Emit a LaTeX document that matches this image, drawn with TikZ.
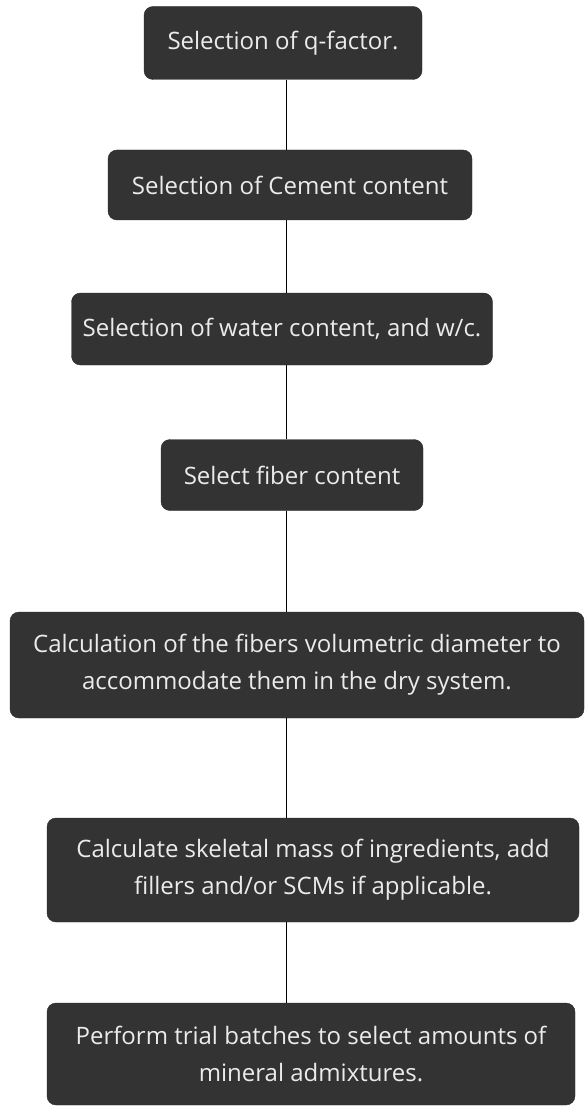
\documentclass[tikz,border=0pt]{standalone}
\usepackage{fontspec}
\setmainfont{Open Sans}
\definecolor{boxgray}{HTML}{333333}
\tikzset{
    stepbox/.style={draw=boxgray!80!black, fill=boxgray, text=white!92!black, rounded corners=9pt,
        align=center, inner sep=0pt, font=\fontsize{24}{37}\selectfont},
    link/.style={draw=black, line width=1pt}
}
\begin{document}
\begin{tikzpicture}[x=1pt,y=-1pt]
    \useasboundingbox (0,0) rectangle (585,1107);

    % Blocchi del procedimento
    \node[stepbox, minimum width=278pt, minimum height=73pt] (qfac) at (283,43) {Selection of q-factor.};
    \node[stepbox, minimum width=364pt, minimum height=70pt] (cement) at (290,185) {Selection of Cement content};
    \node[stepbox, minimum width=421pt, minimum height=72pt] (water) at (282,329) {Selection of water content, and w/c.};
    \node[stepbox, minimum width=262pt, minimum height=71pt] (fiber) at (292,475) {Select fiber content};
    \node[stepbox, minimum width=574pt, minimum height=106pt] (diam) at (297,665)
        {Calculation of the fibers volumetric diameter to\\accommodate them in the dry system.};
    \node[stepbox, minimum width=532pt, minimum height=104pt] (mass) at (313,870)
        {Calculate skeletal mass of ingredients, add\\fillers and/or SCMs if applicable.};
    \node[stepbox, minimum width=528pt, minimum height=102pt] (trial) at (311,1054)
        {Perform trial batches to select amounts of\\mineral admixtures.};

    % Collegamenti
    \coordinate (axis) at (286,0);
    \draw[link] (axis |- qfac.south) -- (axis |- cement.north);
    \draw[link] (axis |- cement.south) -- (axis |- water.north);
    \draw[link] (axis |- water.south) -- (axis |- fiber.north);
    \draw[link] (axis |- fiber.south) -- (axis |- diam.north);
    \draw[link] (axis |- diam.south) -- (axis |- mass.north);
    \draw[link] (axis |- mass.south) -- (axis |- trial.north);
\end{tikzpicture}
\end{document}
